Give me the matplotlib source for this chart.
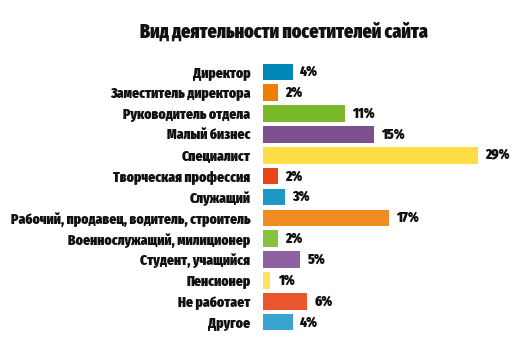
import matplotlib
matplotlib.use("Agg")
import matplotlib.pyplot as plt

categories = [
    "Директор", "Заместитель директора", "Руководитель отдела", "Малый бизнес",
    "Специалист", "Творческая профессия", "Служащий",
    "Рабочий, продавец, водитель, строитель", "Военнослужащий, милиционер",
    "Студент, учащийся", "Пенсионер", "Не работает", "Другое",
]
values = [4, 2, 11, 15, 29, 2, 3, 17, 2, 5, 1, 6, 4]
colors = [
    "#0088bb", "#ee7f00", "#7ab929", "#7e4f8e", "#ffdd44", "#e84614", "#1e96c6",
    "#f18c22", "#88c040", "#8e62a0", "#ffe060", "#e9562e", "#3aa3cf",
]
title = "Вид деятельности посетителей сайта"

plt.rcParams["font.family"] = ["Fira Sans Extra Condensed", "DejaVu Sans"]
WEIGHT = "black"

W, H = 532, 351
fig = plt.figure(figsize=(W / 100, H / 100), dpi=100)
ax = fig.add_axes([263 / W, 18.5 / H, (521 - 263) / W, 271 / H])

y = list(range(len(categories)))
ax.barh(y, values, height=0.8, color=colors)
ax.set_xlim(0, 34.8)
ax.set_ylim(len(categories) - 0.5, -0.5)

for yi, v in zip(y, values):
    ax.text(v + 1.0, yi, f"{v}%", va="center", ha="left",
            fontsize=10.5, fontweight=WEIGHT, color="#111111")

ax.set_yticks(y)
ax.set_yticklabels(categories, fontsize=10.5, fontweight=WEIGHT, color="#111111")
ax.tick_params(axis="y", length=0, pad=9)
ax.set_xticks([])
for s in ax.spines.values():
    s.set_visible(False)

fig.text(284 / W, 1 - 32 / H, title, ha="center", va="center",
         fontsize=14, fontweight=WEIGHT, color="#111111")

fig.savefig("out.png", dpi=100)
